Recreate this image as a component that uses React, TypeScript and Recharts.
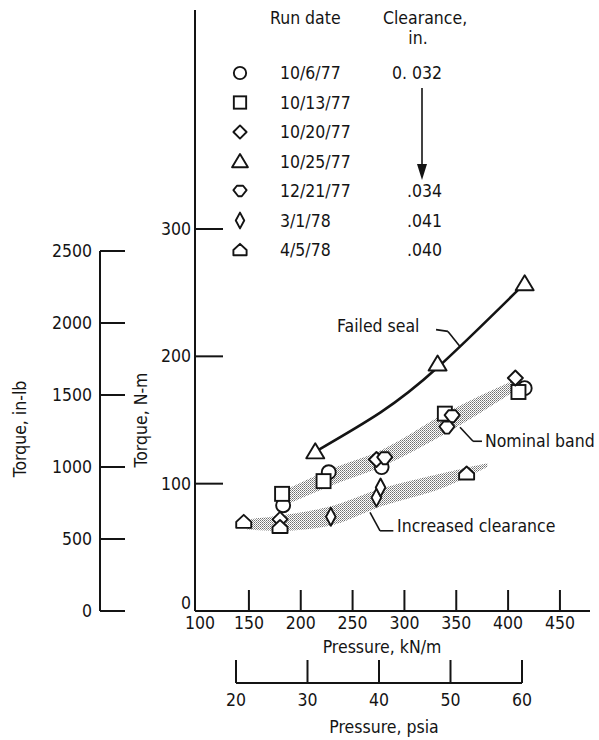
import React from 'react';
import {
  ComposedChart,
  XAxis,
  YAxis,
  Scatter,
  Line,
  Area,
  ReferenceLine,
  ReferenceDot,
  Legend,
  Label,
} from 'recharts';

const FONT = "'Liberation Sans Narrow', 'DejaVu Sans Condensed', 'Roboto Condensed', 'Liberation Sans', sans-serif";
const INK = '#141414';

// ---------- axis ticks ----------
const kpaTicks = [100, 150, 200, 250, 300, 350, 400, 450];
const nmTicks = [0, 100, 200, 300];
const inlbTicks = [0, 500, 1000, 1500, 2000, 2500];
const psiaTicks = [20, 30, 40, 50, 60];

// ---------- legend ----------
const runDates = ['10/6/77', '10/13/77', '10/20/77', '10/25/77', '12/21/77', '3/1/78', '4/5/78'];
const clearances = ['0. 032', '', '', '', '.034', '.041', '.040'];
const markerKinds = ['circle', 'square', 'diamond', 'triangle', 'gem', 'narrow', 'house'];

// ---------- data: pressure (kN/m) vs torque (N-m) ----------
const run100677 = [{ x: 183, y: 83 }, { x: 227, y: 109 }, { x: 278, y: 113 }, { x: 416, y: 175 }];
const run101377 = [{ x: 182, y: 92 }, { x: 222, y: 102 }, { x: 339, y: 155 }, { x: 410, y: 172 }];
const run102077 = [{ x: 180, y: 72 }, { x: 273, y: 119 }, { x: 407, y: 183 }];
const run102577 = [{ x: 214, y: 125 }, { x: 332, y: 194 }, { x: 416, y: 257 }];
const run122177 = [{ x: 281, y: 120 }, { x: 346, y: 153 }, { x: 341, y: 144 }];
const run030178 = [{ x: 229, y: 74 }, { x: 273, y: 89 }, { x: 277, y: 97 }];
const run040578 = [{ x: 145, y: 70 }, { x: 180, y: 66 }, { x: 360, y: 108 }];

const failedSealCurve = [
  { x: 218, y: 127 }, { x: 277, y: 156 }, { x: 333, y: 192 }, { x: 412, y: 254 },
];
const nominalBand = [
  { x: 185, r: [83, 95] }, { x: 228, r: [98, 111] }, { x: 277, r: [113, 126] },
  { x: 341, r: [140, 156] }, { x: 405, r: [172, 181] },
];
const increasedBand = [
  { x: 148, r: [64, 72] }, { x: 180, r: [63, 75] }, { x: 228, r: [67, 82] },
  { x: 277, r: [82, 96] }, { x: 341, r: [98, 109] }, { x: 380, r: [113, 116] },
];

const seriesList = [run100677, run101377, run102077, run102577, run122177, run030178, run040578];

// annotation anchors (data coordinates)
const failedLeader = [{ x: 330.5, y: 221 }, { x: 342, y: 219.6 }, { x: 353.6, y: 207.8 }];
const nominalLeader = [{ x: 353.6, y: 144.3 }, { x: 366.2, y: 133.3 }, { x: 374.8, y: 133.3 }];
const increasedLeader = [{ x: 266.8, y: 77.4 }, { x: 276.5, y: 63 }, { x: 289.3, y: 63 }];
const annotationTexts = [
  { x: 235, y: 223.5, text: 'Failed seal' },
  { x: 377.7, y: 133.3, text: 'Nominal band' },
  { x: 292.9, y: 66.7, text: 'Increased clearance' },
];

const SHAPES: Record<string, number[][]> = {
  diamond: [[0, -7.5], [7.5, 0], [0, 7.5], [-7.5, 0]],
  triangle: [[0, -8.5], [9, 6.5], [-9, 6.5]],
  gem: [[-3.5, -6], [3.5, -6], [7.5, -1], [2, 6], [-2, 6], [-7.5, -1]],
  narrow: [[0, -9], [4.8, 0], [0, 9], [-4.8, 0]],
  house: [[-7.5, 6], [7.5, 6], [7.5, 0], [0, -7], [-7.5, 0]],
};

function Marker({ kind, cx, cy, k = 1 }: { kind: string; cx: number; cy: number; k?: number }) {
  const common = { fill: '#fff', stroke: INK, strokeWidth: 1.9 };
  if (kind === 'circle') return <circle cx={cx} cy={cy} r={7 * k} {...common} />;
  if (kind === 'square')
    return <rect x={cx - 7 * k} y={cy - 7 * k} width={14 * k} height={14 * k} {...common} />;
  const pts = SHAPES[kind].map(([a, b]) => `${cx + a * k},${cy + b * k}`).join(' ');
  return <polygon points={pts} strokeLinejoin="round" {...common} />;
}

const txt = { fontFamily: FONT, fontSize: 17.5, fill: INK };

const KpaTick = (props: any) => {
  const { x, y, payload } = props;
  return (
    <g>
      {payload.value !== 100 && <line x1={x} y1={y} x2={x} y2={y - 21} stroke={INK} strokeWidth={2} />}
      <text x={payload.value === 100 ? x + 3 : x} y={y + 12} textAnchor="middle" dominantBaseline="central" {...txt}>
        {payload.value}
      </text>
    </g>
  );
};

const NmTick = (props: any) => {
  const { x, y, payload } = props;
  return (
    <g>
      {payload.value !== 0 && <line x1={x} y1={y} x2={x + 28} y2={y} stroke={INK} strokeWidth={2} />}
      <text x={x - 4} y={payload.value === 0 ? y - 8 : y} textAnchor="end" dominantBaseline="central" {...txt}>
        {payload.value}
      </text>
    </g>
  );
};

const InlbTick = (props: any) => {
  const { x, y, payload } = props;
  return (
    <g>
      <line x1={x} y1={y} x2={x + 25} y2={y} stroke={INK} strokeWidth={2} />
      <text x={x - 8} y={y} textAnchor="end" dominantBaseline="central" {...txt}>
        {payload.value}
      </text>
    </g>
  );
};

const PsiaTick = (props: any) => {
  const { x, y, payload } = props;
  return (
    <g>
      <line x1={x} y1={y} x2={x} y2={y - 23} stroke={INK} strokeWidth={2} />
      <text x={x} y={y + 17} textAnchor="middle" dominantBaseline="central" {...txt}>
        {payload.value}
      </text>
    </g>
  );
};

const LegendTable = () => {
  const rowY = (i: number) => 73 + i * 29.5;
  return (
    <svg width={599} height={262} style={{ position: 'absolute', left: 0, top: 0, overflow: 'visible' }}>
      <text x={270} y={18} dominantBaseline="central" {...txt}>Run date</text>
      <text x={383} y={18} dominantBaseline="central" {...txt}>Clearance,</text>
      <text x={418} y={38} textAnchor="middle" dominantBaseline="central" {...txt}>in.</text>
      {runDates.map((d, i) => (
        <g key={d}>
          <Marker kind={markerKinds[i]} cx={240} cy={rowY(i)} k={0.88} />
          <text x={280} y={rowY(i)} dominantBaseline="central" {...txt}>{d}</text>
          {clearances[i] && (
            <text x={442} y={rowY(i)} textAnchor="end" dominantBaseline="central" {...txt}>{clearances[i]}</text>
          )}
        </g>
      ))}
      <line x1={422} y1={88} x2={422} y2={170} stroke={INK} strokeWidth={1.6} />
      <polygon points="417,164 427,164 422,180" fill={INK} />
    </svg>
  );
};

const leaderLines = (pts: { x: number; y: number }[], key: string) =>
  pts.slice(1).map((p, i) => (
    <ReferenceLine
      key={key + i}
      segment={[pts[i], p]}
      stroke={INK}
      strokeWidth={1.6}
      ifOverflow="visible"
    />
  ));

export default function App() {
  return (
    <div style={{ position: 'absolute', left: 0, top: 0, width: 599, height: 740, background: '#fff' }}>
      {/* in-lb axis */}
      <div style={{ position: 'absolute', left: 0, top: 0 }}>
        <ComposedChart width={140} height={740} margin={{ top: 251, right: 0, left: 0, bottom: 129 }} data={inlbTicks.map((v) => ({ v }))}>
          <XAxis dataKey="v" hide />
          <YAxis
            type="number"
            dataKey="v"
            domain={[0, 2500]}
            ticks={inlbTicks}
            interval={0}
            width={100}
            tickSize={0}
            tickMargin={0}
            tickLine={false}
            axisLine={{ stroke: INK, strokeWidth: 2 }}
            tick={<InlbTick />}
          >
            <Label
              content={() => (
                <text x={20} y={429} transform="rotate(-90 20 429)" textAnchor="middle" dominantBaseline="central" {...txt}>
                  Torque, in-lb
                </text>
              )}
            />
          </YAxis>
        </ComposedChart>
      </div>

      {/* psia axis */}
      <div style={{ position: 'absolute', left: 0, top: 0 }}>
        <ComposedChart width={599} height={740} margin={{ top: 600, right: 77, left: 236, bottom: 0 }} data={psiaTicks.map((v) => ({ v }))}>
          <XAxis
            type="number"
            dataKey="v"
            domain={[20, 60]}
            ticks={psiaTicks}
            interval={0}
            height={57}
            tickSize={0}
            tickMargin={0}
            tickLine={false}
            axisLine={{ stroke: INK, strokeWidth: 2 }}
            tick={<PsiaTick />}
          >
            <Label
              content={() => (
                <text x={384} y={727} textAnchor="middle" dominantBaseline="central" {...txt}>
                  Pressure, psia
                </text>
              )}
            />
          </XAxis>
          <YAxis hide domain={[0, 1]} />
        </ComposedChart>
      </div>

      {/* main chart */}
      <div style={{ position: 'absolute', left: 0, top: 0 }}>
        <ComposedChart width={599} height={740} margin={{ top: 10, right: 9, left: 135, bottom: 99 }}>
          <defs>
            <pattern id="stipple" width="2" height="2" patternUnits="userSpaceOnUse">
              <rect x="0" y="0" width="1" height="1" fill="#6e6e6e" />
              <rect x="1" y="1" width="1" height="1" fill="#9a9a9a" />
            </pattern>
          </defs>
          <XAxis
            type="number"
            dataKey="x"
            domain={[98, 479]}
            allowDataOverflow
            ticks={kpaTicks}
            interval={0}
            height={30}
            tickSize={0}
            tickMargin={0}
            tickLine={false}
            axisLine={{ stroke: INK, strokeWidth: 2 }}
            tick={<KpaTick />}
          >
            <Label
              content={() => (
                <text x={382} y={647} textAnchor="middle" dominantBaseline="central" {...txt}>
                  Pressure, kN/m
                </text>
              )}
            />
          </XAxis>
          <YAxis
            type="number"
            dataKey="y"
            domain={[0, 472]}
            allowDataOverflow
            ticks={nmTicks}
            interval={0}
            width={60}
            tickSize={0}
            tickMargin={0}
            tickLine={false}
            axisLine={{ stroke: INK, strokeWidth: 2 }}
            tick={<NmTick />}
          >
            <Label
              content={() => (
                <text x={141} y={420} transform="rotate(-90 141 420)" textAnchor="middle" dominantBaseline="central" {...txt}>
                  Torque, N-m
                </text>
              )}
            />
          </YAxis>
          <Legend
            layout="vertical"
            align="center"
            verticalAlign="middle"
            wrapperStyle={{ position: 'absolute', left: 0, top: 0, width: 599, height: 262 }}
            content={() => <LegendTable />}
          />
          <Area data={nominalBand} dataKey="r" type="monotone" fill="url(#stipple)" fillOpacity={1} stroke="none" isAnimationActive={false} />
          <Area data={increasedBand} dataKey="r" type="monotone" fill="url(#stipple)" fillOpacity={1} stroke="none" isAnimationActive={false} />
          <Line data={failedSealCurve} dataKey="y" type="natural" stroke={INK} strokeWidth={2.6} dot={false} isAnimationActive={false} />
          {leaderLines(failedLeader, 'f')}
          {leaderLines(nominalLeader, 'n')}
          {leaderLines(increasedLeader, 'i')}
          {annotationTexts.map((a) => (
            <ReferenceDot
              key={a.text}
              x={a.x}
              y={a.y}
              r={0}
              ifOverflow="visible"
              shape={(p: any) => (
                <text x={p.cx} y={p.cy} dominantBaseline="central" {...txt}>
                  {a.text}
                </text>
              )}
            />
          ))}
          {seriesList.map((s, i) => (
            <Scatter
              key={runDates[i]}
              name={runDates[i]}
              data={s}
              dataKey="y"
              isAnimationActive={false}
              shape={(p: any) => <Marker kind={markerKinds[i]} cx={p.cx} cy={p.cy} />}
            />
          ))}
        </ComposedChart>
      </div>
    </div>
  );
}
